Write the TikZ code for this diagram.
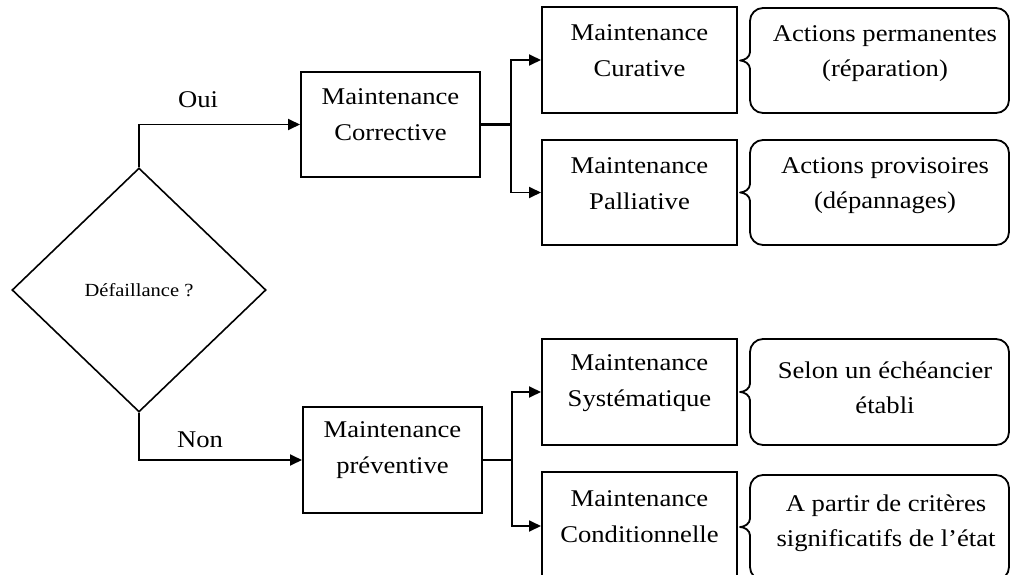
\documentclass[tikz,border=0pt]{standalone}
\usepackage{fontspec}
\setmainfont[FakeStretch=1.11]{Liberation Serif}
\usetikzlibrary{arrows.meta,shapes.geometric}
\newcommand\braceshape[5]{%
  \draw[bb, rounded corners=13pt] (#1,#5-8) -- (#1,#2) -- (#3,#2) -- (#3,#4) -- (#1,#4) -- (#1,#5+8);
  \draw[bb] (#1,#5-8.5) .. controls (#1,#5-3) and (#1-6,#5) .. (#1-10,#5)
            .. controls (#1-6,#5) and (#1,#5+3) .. (#1,#5+8.5);
}
\begin{document}
\begin{tikzpicture}[x=1pt,y=-1pt,
  rbox/.style={draw, line width=2pt, rectangle, inner sep=0pt},
  txt/.style={align=center, font=\fontsize{24}{36}\selectfont, inner sep=0pt},
  btxt/.style={align=center, font=\fontsize{24}{35}\selectfont, inner sep=0pt},
  lbl/.style={font=\fontsize{24}{28}\selectfont, inner sep=0pt, anchor=base},
  arr/.style={-{Triangle[length=12pt,width=11pt]}, line width=1.8pt},
  conn/.style={line width=1.8pt},
  bb/.style={line width=1.8pt, line cap=round, line join=round}]
\useasboundingbox (0,0) rectangle (1012,575);
\clip (0,0) rectangle (1012,575);

% decision
\node[draw, diamond, line width=1.6pt, inner sep=0pt, minimum width=254pt, minimum height=244pt,
      font=\fontsize{18.5}{22}\selectfont] (dia) at (139,290) {Défaillance ?};

% main boxes
\node[rbox, minimum width=179pt, minimum height=105pt] (corr) at (390.5,124.5) {};
\node[rbox, minimum width=179pt, minimum height=106pt] (prev) at (392.5,460) {};
\node[txt] (tcorr) at (390.5,115) {Maintenance\\Corrective};
\node[txt] (tprev) at (392.5,450) {Maintenance\\préventive};

% second level boxes
\node[rbox, minimum width=195pt, minimum height=106pt] (cur) at (639.5,60) {};
\node[rbox, minimum width=195pt, minimum height=105pt] (pal) at (639.5,192.5) {};
\node[rbox, minimum width=195pt, minimum height=106pt] (sys) at (639.5,392) {};
\node[rbox, minimum width=195pt, minimum height=108pt] (cond) at (639.5,526) {};
\node[txt] (tcur) at (639.5,51) {Maintenance\\Curative};
\node[txt] (tpal) at (639.5,183.5) {Maintenance\\Palliative};
\node[txt] (tsys) at (639.5,383) {Maintenance\\Systématique};
\node[txt] (tcond) at (639.5,517) {Maintenance\\Conditionnelle};

% brace boxes
\braceshape{750}{8}{1009}{113}{60.5}
\braceshape{750}{140}{1009}{245}{192.5}
\braceshape{750}{339}{1009}{445}{392}
\braceshape{750}{475}{1009}{580}{527}
\node[btxt] (tb1) at (885,54) {Actions permanentes\\(réparation)};
\node[btxt] (tb2) at (885,186) {Actions provisoires\\(dépannages)};
\node[btxt] (tb3) at (885,387.5) {Selon un échéancier\\établi};
\node[btxt] (tb4) at (886,523) {A partir de critères\\significatifs de l’état};

% labels
\node[lbl] (oui) at (198,108) {Oui};
\node[lbl] (non) at (200,447) {Non};

% connectors
\draw[arr] (dia.north) |- (corr.west);
\draw[arr] (dia.south) |- (prev.west);
\coordinate (b1) at (511,124.5);
\coordinate (b2) at (512,460);
\draw[line width=3.5pt] (corr.east) -- (b1);
\draw[arr] (b1) |- (cur.west);
\draw[arr] (b1) |- (pal.west);
\draw[conn] (prev.east) -- (b2);
\draw[arr] (b2) |- (sys.west);
\draw[arr] (b2) |- (cond.west);
\end{tikzpicture}
\end{document}
